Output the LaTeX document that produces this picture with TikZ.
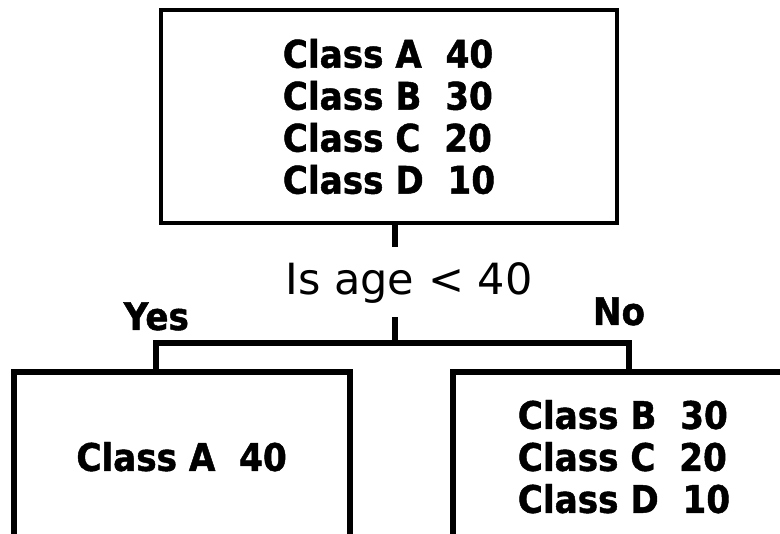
\documentclass[tikz,border=0pt]{standalone}
\usepackage{fontspec}
\setmainfont{DejaVu Sans}
\newfontfamily\boldfont[FakeStretch=0.9,FakeBold=1.2]{DejaVu Sans}
\newfontfamily\thinfont{DejaVu Sans}

\begin{document}
\begin{tikzpicture}[x=1pt,y=-1pt,
	box/.style={draw,line width=6pt,inner sep=0pt,align=left,font=\boldfont\bfseries\fontsize{38}{42}\selectfont},
	wire/.style={line width=6pt},
	lbl/.style={inner sep=0pt,anchor=base,font=\boldfont\bfseries\fontsize{38}{42}\selectfont}]
		\useasboundingbox (0,0) rectangle (780,534);
		\clip (0,0) rectangle (780,534);
		
		\node[box,line width=4.5pt,minimum width=456pt,minimum height=213pt] (root) at (389,116.5)
			{Class A\ \ 40\\Class B\ \ 30\\Class C\ \ 20\\Class D\ \ 10};
		\node[box,minimum width=335.8pt,minimum height=169.4pt] (left) at (181.6,456.7) {Class A\ \ 40};
		\node[box,minimum width=343pt,minimum height=169.4pt] (right) at (624,456.7)
			{Class B\ \ 30\\Class C\ \ 20\\Class D\ \ 10};
		
		\node[lbl,font=\thinfont\fontsize{43}{48}\selectfont] (test) at (409,295) {Is age < 40};
		\node[lbl] (yes) at (156.3,330) {Yes};
		\node[lbl] (no) at (619,325) {No};
		
		\coordinate (fork) at (395,343.5);
		\coordinate (yesturn) at (155.7,343.5);
		\coordinate (noturn) at (629,343.5);
		
		\draw[wire] (root.south -| fork) -- ++(0,22);
		\draw[wire] (fork) -- ++(0,-26.5);
		\draw[wire] (left.north -| yesturn) -- (yesturn) -- (noturn) -- (right.north -| noturn);
		
		\end{tikzpicture}
\end{document}
